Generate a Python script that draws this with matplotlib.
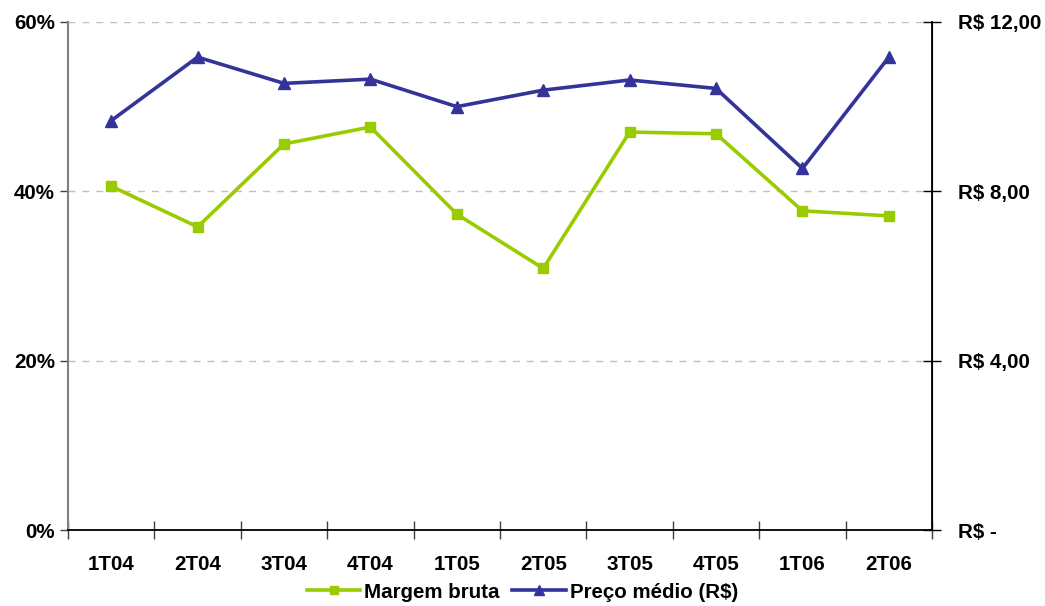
import matplotlib.pyplot as plt
from matplotlib.ticker import FixedLocator

plt.rcParams['font.family'] = ['Liberation Sans', 'DejaVu Sans']
plt.rcParams['font.weight'] = 'bold'

trimestres = ['1T04', '2T04', '3T04', '4T04', '1T05', '2T05', '3T05', '4T05', '1T06', '2T06']
margem_bruta = [40.6, 35.8, 45.6, 47.6, 37.3, 30.9, 47.0, 46.8, 37.7, 37.1]  # %
preco_medio = [9.67, 11.17, 10.55, 10.65, 10.00, 10.39, 10.63, 10.43, 8.54, 11.17]  # R$

verde = '#99CC00'
azul = '#333399'
fs = 14.8

fig = plt.figure(figsize=(10.45, 6.06), dpi=100)
ax1 = fig.add_axes([0.0651, 0.1254, 0.8268, 0.8383])
ax2 = ax1.twinx()

x = list(range(len(trimestres)))
l1, = ax1.plot(x, margem_bruta, color=verde, lw=2.6, marker='s', ms=7.5,
               markeredgecolor=verde, label='Margem bruta')
l2, = ax2.plot(x, preco_medio, color=azul, lw=2.6, marker='^', ms=9,
               markeredgecolor=azul, label='Preço médio (R$)')

ax1.set_xlim(-0.5, len(trimestres) - 0.5)
ax1.set_ylim(0, 60)
ax2.set_ylim(0, 12)

ax1.set_yticks([0, 20, 40, 60])
ax1.set_yticklabels(['0%', '20%', '40%', '60%'])
ax2.set_yticks([0, 4, 8, 12])
ax2.set_yticklabels(['R$ -', 'R$ 4,00', 'R$ 8,00', 'R$ 12,00'])

ax1.set_xticks(x)
ax1.set_xticklabels(trimestres)
ax1.xaxis.set_minor_locator(FixedLocator([i - 0.5 for i in range(len(trimestres) + 1)]))
ax1.tick_params(axis='x', which='major', length=0, pad=18, labelsize=fs)
ax1.tick_params(axis='x', which='minor', direction='inout', length=13, width=1, color='#404040')
ax1.tick_params(axis='y', direction='out', length=6, width=1, color='#404040', labelsize=fs, pad=3.5)
ax2.tick_params(axis='y', direction='inout', length=13, width=1, color='black', labelsize=fs, pad=12)

ax1.yaxis.grid(True, linestyle=(0, (5, 5)), color='#c0c0c0', lw=1)
ax1.set_axisbelow(True)

for a in (ax1, ax2):
    a.spines['top'].set_visible(False)
ax1.spines['left'].set_color('#808080')
ax1.spines['left'].set_linewidth(1.5)
ax1.spines['bottom'].set_color('black')
ax1.spines['bottom'].set_linewidth(1.3)
ax2.spines['left'].set_visible(False)
ax2.spines['bottom'].set_visible(False)
ax2.spines['right'].set_color('black')
ax2.spines['right'].set_linewidth(1.3)

fig.legend(handles=[l1, l2], loc='center', bbox_to_anchor=(0.5, 0.023), ncol=2,
           frameon=False, fontsize=fs, handlelength=2.6, handletextpad=0.2,
           columnspacing=0.6, markerscale=0.8)

fig.savefig('out.png', dpi=100)
